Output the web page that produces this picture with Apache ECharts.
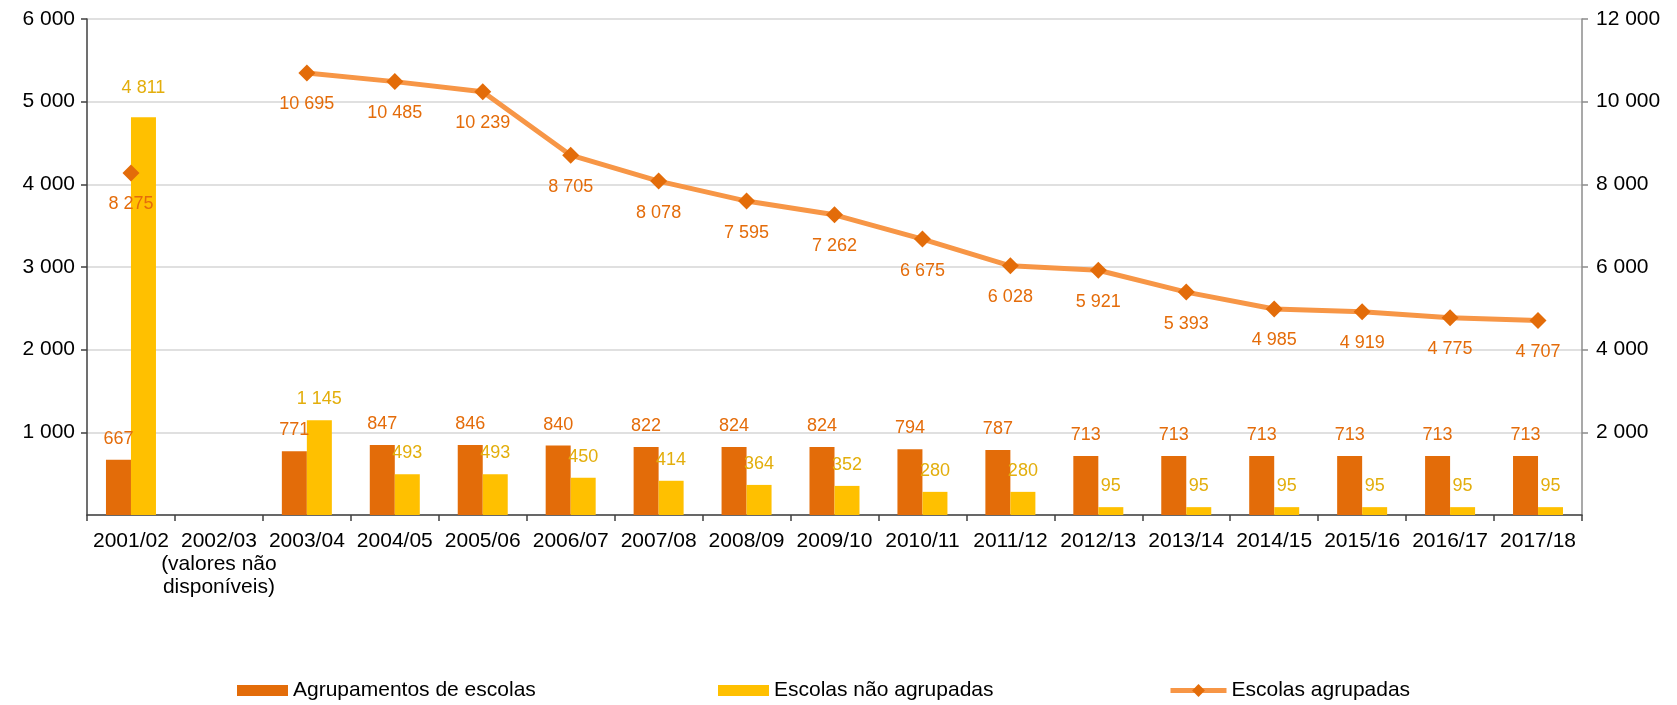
<!DOCTYPE html>
<html>
<head>
<meta charset="utf-8">
<script src="https://cdn.jsdelivr.net/npm/echarts@6/dist/echarts.min.js"></script>
<style>
  html, body { margin: 0; padding: 0; background: #fff; }
  #chart { width: 1677px; height: 705px; }
</style>
</head>
<body>
<div id="chart"></div>
<script>
// School years
const categories = ['2001/02', '2002/03\n(valores não\ndisponíveis)', '2003/04', '2004/05', '2005/06', '2006/07',
  '2007/08', '2008/09', '2009/10', '2010/11', '2011/12', '2012/13', '2013/14', '2014/15',
  '2015/16', '2016/17', '2017/18'];

// Left axis: number of school groupings and non-grouped schools
const agrupamentos = [667, null, 771, 847, 846, 840, 822, 824, 824, 794, 787, 713, 713, 713, 713, 713, 713];
const naoAgrupadas = [4811, null, 1145, 493, 493, 450, 414, 364, 352, 280, 280, 95, 95, 95, 95, 95, 95];

// Right axis: grouped schools
const agrupadas = [8275, null, 10695, 10485, 10239, 8705, 8078, 7595, 7262, 6675, 6028, 5921, 5393, 4985, 4919, 4775, 4707];

const leftTicks = { min: 0, max: 6000, interval: 1000 };
const rightTicks = { min: 0, max: 12000, interval: 2000 };

const FONT = '"Liberation Sans", Arial, sans-serif';
const C_ORANGE = '#E36C09';
const C_YELLOW = '#FFC000';
const C_LINE = '#F79646';
const C_LBL_ORANGE = '#E46C0A';
const C_LBL_YELLOW = '#E3AE0C';

const fmt = v => (v === null || v === undefined) ? '' : String(v).replace(/\B(?=(\d{3})+(?!\d))/g, ' ');

const chart = echarts.init(document.getElementById('chart'), null, { renderer: 'canvas' });

const axisLabelBase = { color: '#000', fontFamily: FONT, fontSize: 21 };
const legendText = { fontSize: 21, color: '#000', fontFamily: FONT };

// The tallest bar carries its label a little higher above the bar
const naoAgrupadasData = naoAgrupadas.map((v, i) => i === 0 ? { value: v, label: { distance: 20 } } : v);

chart.setOption({
  animation: false,
  backgroundColor: '#fff',
  textStyle: { fontFamily: FONT },
  grid: { left: 87, right: 95, top: 19, bottom: 190, containLabel: false },
  legend: [
    { data: ['Agrupamentos de escolas'], left: 232, top: 675, icon: 'rect', itemWidth: 51, itemHeight: 11,
      textStyle: legendText },
    { data: ['Escolas não agrupadas'], left: 713, top: 675, icon: 'rect', itemWidth: 51, itemHeight: 11,
      textStyle: legendText },
    { data: ['Escolas agrupadas'], left: 1163, top: 675, itemWidth: 56, itemHeight: 16,
      lineStyle: { width: 5 }, textStyle: legendText }
  ],
  xAxis: {
    type: 'category',
    data: categories,
    boundaryGap: true,
    axisLine: { lineStyle: { color: '#404040', width: 1.5 } },
    axisTick: { show: true, length: 6, lineStyle: { color: '#404040', width: 1.5 } },
    axisLabel: Object.assign({}, axisLabelBase, { margin: 15, lineHeight: 23, interval: 0 })
  },
  yAxis: [
    {
      type: 'value', position: 'left',
      min: leftTicks.min, max: leftTicks.max, interval: leftTicks.interval,
      axisLine: { show: true, lineStyle: { color: '#404040', width: 1.5 } },
      axisTick: { show: true, length: 6, lineStyle: { color: '#404040', width: 1.5 } },
      splitLine: { show: true, lineStyle: { color: '#E0E0E0', width: 2 } },
      axisLabel: Object.assign({}, axisLabelBase, {
        margin: 12, showMinLabel: false,
        formatter: v => v === 0 ? '' : fmt(v)
      })
    },
    {
      type: 'value', position: 'right',
      min: rightTicks.min, max: rightTicks.max, interval: rightTicks.interval,
      axisLine: { show: true, lineStyle: { color: '#8C8C8C', width: 1.5 } },
      axisTick: { show: true, length: 6, lineStyle: { color: '#8C8C8C', width: 1.5 } },
      splitLine: { show: false },
      axisLabel: Object.assign({}, axisLabelBase, {
        margin: 14, showMinLabel: false,
        formatter: v => v === 0 ? '' : fmt(v)
      })
    }
  ],
  series: [
    {
      name: 'Agrupamentos de escolas',
      type: 'bar',
      yAxisIndex: 0,
      data: agrupamentos,
      barWidth: 25,
      barGap: '0%',
      itemStyle: { color: C_ORANGE },
      label: {
        show: true, position: 'top', distance: 12,
        color: C_LBL_ORANGE, fontSize: 18, fontFamily: FONT,
        formatter: p => fmt(p.value)
      }
    },
    {
      name: 'Escolas não agrupadas',
      type: 'bar',
      yAxisIndex: 0,
      data: naoAgrupadasData,
      barWidth: 25,
      barGap: '0%',
      itemStyle: { color: C_YELLOW },
      label: {
        show: true, position: 'top', distance: 12,
        color: C_LBL_YELLOW, fontSize: 18, fontFamily: FONT,
        formatter: p => fmt(p.value)
      }
    },
    {
      name: 'Escolas agrupadas',
      type: 'line',
      yAxisIndex: 1,
      data: agrupadas,
      connectNulls: false,
      symbol: 'diamond',
      symbolSize: 17,
      lineStyle: { color: C_LINE, width: 5 },
      itemStyle: { color: C_ORANGE },
      label: {
        show: true, position: 'bottom', distance: 14,
        color: C_LBL_ORANGE, fontSize: 18, fontFamily: FONT,
        formatter: p => fmt(p.value)
      },
      z: 5
    }
  ]
});
</script>
</body>
</html>
